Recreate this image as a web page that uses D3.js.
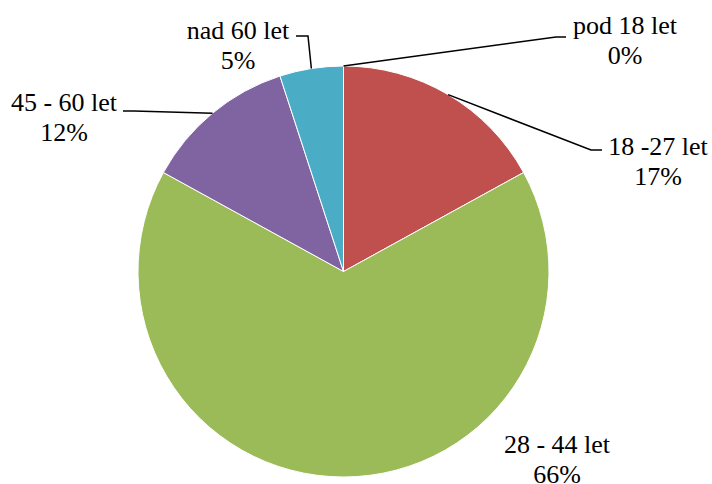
<!DOCTYPE html>
<html>
<head>
    <meta charset="UTF-8">
    <script src="https://d3js.org/d3.v7.min.js"></script>
    <style>
        body {
            margin: 0;
            background: #ffffff;
        }
        .leader {
            fill: none;
            stroke: #000;
            stroke-width: 1.5px;
        }
    </style>
</head>
<body>
    <svg width="712" height="484"></svg>
    <script>
        // data
        const categories = ["pod 18 let", "18 -27 let", "28 - 44 let", "45 - 60 let", "nad 60 let"];
        const values = [0, 17, 66, 12, 5];
        const colors = ["#4F81BD", "#C0504D", "#9BBB59", "#8064A2", "#4BACC6"];

        // label layout: text centre x, first baseline y, and leader elbow (null = no leader)
        const labelX = [625, 658, 557, 64, 238];
        const labelY = [34, 155, 453, 111, 39];
        const elbows = [[556, 37, 566], [591, 150, 602], null, [134, 111, 123], [308, 36, 296]];

        let svg = d3.select("svg");
        let cx = 343.5, cy = 271.5, radius = 205.5;

        let pie = d3.pie().sort(null).value(d => d)(values);
        let arc = d3.arc().innerRadius(0).outerRadius(radius);
        let edge = d3.arc().innerRadius(radius).outerRadius(radius);

        let g = svg.append("g").attr("transform", `translate(${cx},${cy})`);

        g.selectAll("path.slice")
            .data(pie)
            .enter().append("path")
            .attr("class", "slice")
            .attr("d", arc)
            .attr("fill", (d, i) => colors[i])
            .attr("stroke", "#fff")
            .attr("stroke-width", 1);

        // leader lines from middle of each slice's outer edge
        pie.forEach((d, i) => {
            if (!elbows[i]) return;
            let p = edge.centroid(d);
            let e = elbows[i];
            svg.append("polyline")
                .attr("class", "leader")
                .attr("points", [[cx + p[0], cy + p[1]], [e[0], e[1]], [e[2], e[1]]].map(q => q.join(",")).join(" "));
        });

        // two separate text lines per label: name and percentage
        let total = d3.sum(values);
        categories.forEach((c, i) => {
            let lines = [c, Math.round(values[i] / total * 100) + "%"];
            lines.forEach((s, k) => {
                svg.append("text")
                    .attr("text-anchor", "middle")
                    .attr("font-family", "Liberation Serif")
                    .style("font-family", "'Liberation Serif'")
                    .style("font-size", "26px")
                    .attr("fill", "#000")
                    .attr("x", labelX[i])
                    .attr("y", labelY[i] + k * 30)
                    .text(s);
            });
        });
    </script>
</body>
</html>
